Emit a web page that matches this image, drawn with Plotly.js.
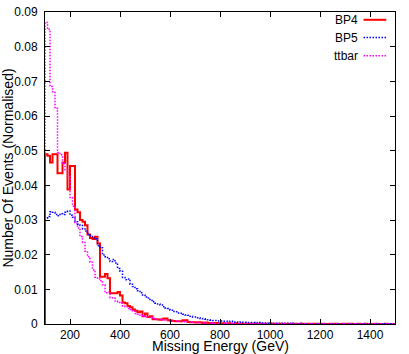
<!DOCTYPE html>
<html>
<head>
<meta charset="utf-8">
<script src="https://cdn.plot.ly/plotly-3.0.1.min.js"></script>
<style>
  html, body { margin: 0; padding: 0; background: #fff; }
  #chart { width: 409px; height: 354px; }
</style>
</head>
<body>
<div id="chart"></div>
<script>
// histogram bins: 10 GeV wide, starting at 100 GeV
const binStart = 100;
const binWidth = 10;

const bp4 = [
  0.049, 0.0485, 0.0466, 0.049, 0.049, 0.0435, 0.0435, 0.0466, 0.0494, 0.0388,
  0.0456, 0.0456, 0.033, 0.0322, 0.030, 0.0295, 0.0285, 0.0258, 0.0248, 0.0245,
  0.0252, 0.0232, 0.0136, 0.0136, 0.0144, 0.0132, 0.0089, 0.0089, 0.0089, 0.0092,
  0.0082, 0.0062, 0.006, 0.0052, 0.0048, 0.0042, 0.0038, 0.0034, 0.0036, 0.0022,
  0.003, 0.002, 0.0022, 0.0014, 0.0014, 0.0013, 0.0012, 0.0015, 0.0016, 0.0011,
  0.001, 0.0009, 0.0008, 0.0008, 0.0008, 0.0011, 0.0011, 0.0006, 0.0005, 0.0005,
  0.0004, 0.0005, 0.0004, 0.0003, 0.0004, 0.0003, 0.0003, 0.0002, 0.0003, 0.0002,
  0.0002, 0.0002, 0.0001, 0.0002, 0.0001, 0.0001, 0.0002, 0.0001, 0.0001, 0.0001,
  0.0001, 0.0001, 0.0001, 0.00005, 0.0001, 0.00005, 0.0001, 0.00005, 0.00005, 0.0001,
  0.00005, 0.00005, 0.0001, 0.00005, 0.00005, 0, 0.00005, 0.00005, 0, 0.00005,
  0.00005, 0, 0.00005, 0.00005, 0, 0.00005, 0, 0.00005, 0, 0.00005,
  0, 0.00005, 0, 0, 0.00005, 0, 0.00005, 0, 0, 0.00005,
  0, 0.0001, 0.00005, 0, 0, 0.00005, 0, 0, 0.00005, 0,
  0, 0, 0.00005, 0, 0, 0, 0.00005, 0, 0, 0
];

const bp5 = [
  0.0305, 0.031, 0.0324, 0.0322, 0.0316, 0.0312, 0.0318, 0.0316, 0.0322, 0.0326,
  0.0314, 0.0308, 0.0295, 0.0288, 0.0284, 0.0274, 0.0268, 0.0258, 0.0255, 0.0248,
  0.0246, 0.0226, 0.022, 0.0199, 0.0194, 0.0188, 0.018, 0.0186, 0.0176, 0.016,
  0.0152, 0.0134, 0.0128, 0.013, 0.0115, 0.0108, 0.0102, 0.0096, 0.009, 0.0084,
  0.0078, 0.0075, 0.0068, 0.0064, 0.006, 0.0058, 0.0055, 0.005, 0.0046, 0.0045,
  0.004, 0.0036, 0.0035, 0.0032, 0.0031, 0.0028, 0.0026, 0.0025, 0.0022, 0.002,
  0.002, 0.0018, 0.0016, 0.0015, 0.0014, 0.0012, 0.0011, 0.001, 0.001, 0.0009,
  0.0009, 0.0008, 0.0008, 0.0007, 0.0008, 0.0006, 0.0006, 0.0005, 0.0006, 0.0005,
  0.0005, 0.0004, 0.0004, 0.0004, 0.0003, 0.0004, 0.0003, 0.0003, 0.0003, 0.0002,
  0.0003, 0.0002, 0.0002, 0.0002, 0.0002, 0.0001, 0.0002, 0.0002, 0.0001, 0.0002,
  0.0001, 0.0001, 0.0002, 0.0001, 0.0001, 0.0001, 0.0001, 0.0001, 0.0001, 0.00005,
  0.0001, 0.0001, 0.00005, 0.0001, 0.00005, 0.00005, 0.0001, 0.00005, 0.00005, 0.00005,
  0.00005, 0.0001, 0.00005, 0.00005, 0.00005, 0.00005, 0.0001, 0.00005, 0.00005, 0,
  0.00005, 0.00005, 0, 0.00005, 0.00005, 0, 0.00005, 0, 0.00005, 0
];

const ttbar = [
  0.087, 0.085, 0.0685, 0.067, 0.0622, 0.0495, 0.0488, 0.0462, 0.0445, 0.0425,
  0.0365, 0.034, 0.029, 0.0277, 0.0252, 0.0235, 0.021, 0.0194, 0.0178, 0.0156,
  0.0135, 0.013, 0.0125, 0.0113, 0.009, 0.0092, 0.0076, 0.0075, 0.0066, 0.0062,
  0.006, 0.0052, 0.005, 0.0045, 0.0042, 0.0038, 0.003, 0.0028, 0.0025, 0.0022,
  0.002, 0.0019, 0.0019, 0.0016, 0.0014, 0.0014, 0.0012, 0.0012, 0.0011, 0.001,
  0.0009, 0.0009, 0.0008, 0.0008, 0.0007, 0.0007, 0.0006, 0.0006, 0.0005, 0.0005,
  0.0004, 0.0004, 0.0004, 0.0003, 0.0003, 0.0003, 0.0002, 0.0003, 0.0002, 0.0002,
  0.0002, 0.0002, 0.0001, 0.0002, 0.0001, 0.0001, 0.0001, 0.0001, 0.0001, 0.0001,
  0.0001, 0.00005, 0.0001, 0.00005, 0.00005, 0.0001, 0.00005, 0.00005, 0.00005, 0.00005,
  0.00005, 0, 0.00005, 0.00005, 0, 0.00005, 0, 0.00005, 0, 0,
  0.00005, 0, 0, 0.00005, 0, 0, 0.00005, 0, 0, 0,
  0, 0.00005, 0, 0, 0, 0.00005, 0, 0, 0, 0,
  0.00005, 0, 0, 0, 0, 0.00005, 0, 0, 0, 0,
  0, 0, 0.00005, 0, 0, 0, 0, 0, 0, 0
];

const seriesNames = ["BP4", "BP5", "ttbar"];
const seriesColors = ["#ff0000", "#0000ff", "#ff00ff"];
const xTicks = [200, 400, 600, 800, 1000, 1200, 1400];

const dotted = "1.5px,1.5px";

// step outline: start at 0 on the left edge, drop back to 0 at the right edge
function stepTrace(vals, name, color, dash, width) {
  const xs = [binStart];
  const ys = [0];
  vals.forEach((v, i) => {
    xs.push(binStart + i * binWidth);
    ys.push(v);
  });
  xs.push(binStart + vals.length * binWidth);
  ys.push(0);
  return {
    x: xs,
    y: ys,
    name: name,
    type: "scatter",
    mode: "lines",
    line: { shape: "hv", color: color, dash: dash, width: width },
    showlegend: false,
    hoverinfo: "skip"
  };
}

const data = [
  stepTrace(bp4, seriesNames[0], seriesColors[0], "solid", 2),
  stepTrace(bp5, seriesNames[1], seriesColors[1], dotted, 1.5),
  stepTrace(ttbar, seriesNames[2], seriesColors[2], dotted, 1.5)
];

// gnuplot-style key: label first, then a line sample
const keyY = [0.975, 0.918, 0.86];
const keyDash = ["solid", dotted, dotted];
const keyWidth = [2, 1.5, 1.5];
const annotations = [];
const shapes = [];
seriesNames.forEach((n, i) => {
  annotations.push({
    xref: "paper", yref: "paper",
    x: 0.9, y: keyY[i],
    xanchor: "right", yanchor: "middle",
    text: n, showarrow: false,
    font: { size: 12, color: "#000" }
  });
  shapes.push({
    type: "line", xref: "paper", yref: "paper",
    x0: 0.91, x1: 0.975, y0: keyY[i], y1: keyY[i],
    line: { color: seriesColors[i], dash: keyDash[i], width: keyWidth[i] }
  });
});

// x-axis title sits low, just under the tick labels
annotations.push({
  xref: "paper", yref: "paper",
  x: 0.5, y: -0.071,
  xanchor: "center", yanchor: "middle",
  text: "Missing Energy (GeV)", showarrow: false,
  font: { size: 14, color: "#000" }
});

const layout = {
  width: 409,
  height: 354,
  margin: { l: 45, r: 14, t: 12, b: 30 },
  paper_bgcolor: "#fff",
  plot_bgcolor: "#fff",
  font: { family: "Liberation Sans, Arial, sans-serif", size: 12, color: "#000" },
  xaxis: {
    range: [100, 1500],
    tickvals: xTicks,
    ticks: "inside",
    ticklen: 5,
    tickcolor: "#000",
    showgrid: false,
    zeroline: false,
    showline: true,
    linecolor: "#000",
    linewidth: 1,
    mirror: "ticks",
    automargin: false
  },
  yaxis: {
    range: [0, 0.09],
    dtick: 0.01,
    ticks: "inside",
    ticklen: 5,
    tickcolor: "#000",
    showgrid: false,
    zeroline: false,
    showline: true,
    linecolor: "#000",
    linewidth: 1,
    mirror: "ticks",
    ticklabelstandoff: 4,
    title: { text: "Number Of Events (Normalised)", font: { size: 14 } },
    automargin: false
  },
  annotations: annotations,
  shapes: shapes
};

Plotly.newPlot("chart", data, layout, { displayModeBar: false, staticPlot: true });
</script>
</body>
</html>
